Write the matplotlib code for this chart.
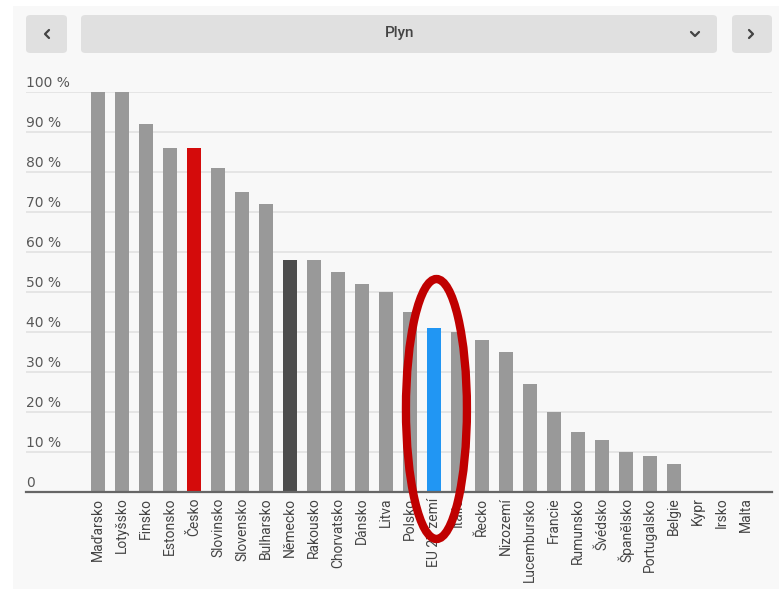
import matplotlib
matplotlib.use("Agg")
import matplotlib.pyplot as plt
from matplotlib.patches import FancyBboxPatch, Rectangle, Ellipse
from matplotlib.lines import Line2D

plt.rcParams['font.family'] = ['Roboto', 'DejaVu Sans']

countries = ['Maďarsko', 'Lotyšsko', 'Finsko', 'Estonsko', 'Česko', 'Slovinsko',
             'Slovensko', 'Bulharsko', 'Německo', 'Rakousko', 'Chorvatsko', 'Dánsko',
             'Litva', 'Polsko', 'EU 27 zemí', 'Itálie', 'Řecko', 'Nizozemí',
             'Lucembursko', 'Francie', 'Rumunsko', 'Švédsko', 'Španělsko',
             'Portugalsko', 'Belgie', 'Kypr', 'Irsko', 'Malta']
shares = [100, 100, 92, 86, 86, 81, 75, 72, 58, 58, 55, 52, 50, 45, 41, 40, 38, 35,
          27, 20, 15, 13, 10, 9, 7, 0, 0, 0]
highlight = {'Česko': '#d40b0b', 'Německo': '#4d4d4d', 'EU 27 zemí': '#2196f3'}
yticks = [0, 10, 20, 30, 40, 50, 60, 70, 80, 90, 100]
selected = 'Plyn'

W, H = 779, 589
fig = plt.figure(figsize=(W / 100, H / 100), dpi=100)
fig.patch.set_facecolor('white')


def px(x, y):
    return x / W, 1 - y / H


# panel background
fig.add_artist(Rectangle(px(13, H), (W - 13) / W, (H - 6) / H,
                         transform=fig.transFigure, fc='#f8f8f8', ec='none', zorder=0))

# selector buttons
for x0, x1 in [(26, 67), (81, 717), (732, 772)]:
    fig.add_artist(FancyBboxPatch(px(x0, 53), (x1 - x0) / W, 38 / H,
                                  boxstyle='round,pad=0,rounding_size=0.006',
                                  transform=fig.transFigure, fc='#e0e0e0', ec='none',
                                  zorder=1))
fig.text(*px(400, 33), selected, ha='center', va='center', fontsize=11,
         color='#444444', fontweight='medium')


def chevron(pts):
    xs = [px(x, y)[0] for x, y in pts]
    ys = [px(x, y)[1] for x, y in pts]
    fig.add_artist(Line2D(xs, ys, transform=fig.transFigure, color='#444444',
                          lw=1.6, solid_capstyle='round', zorder=2))


chevron([(49, 30), (45, 34), (49, 38)])
chevron([(749, 30), (753, 34), (749, 38)])
chevron([(691, 32), (695, 36), (699, 32)])

ax = fig.add_axes([26 / W, (H - 492) / H, (772 - 26) / W, 400 / H])
ax.set_facecolor('none')
ax.set_xlim(-3, 28.08)
ax.set_ylim(0, 100)

colors = [highlight.get(c, '#999999') for c in countries]
ax.bar(range(len(countries)), shares, width=0.6, color=colors, zorder=2)

for v in yticks[1:]:
    ax.axhline(v, color='#e2e2e2', lw=1.2, zorder=1)
ax.axhline(0, color='#666666', lw=1.6, zorder=3, clip_on=False)

for v in yticks:
    label = '0' if v == 0 else f'{v} %'
    ax.annotate(label, (0, v), xycoords=('axes fraction', 'data'),
                xytext=(0, 1.2), textcoords='offset points', ha='left', va='bottom',
                fontsize=10, color='#585858', family='DejaVu Sans',
                annotation_clip=False)

ax.set_xticks(range(len(countries)))
ax.set_xticklabels(countries, rotation=90, fontsize=10, color='#444444')
ax.tick_params(axis='x', length=0, pad=4)
ax.set_yticks([])
for s in ax.spines.values():
    s.set_visible(False)

# emphasis ring around the EU average
ax.add_patch(Ellipse((14.1, 20.75), width=2.54, height=65, fill=False,
                     ec='#c00000', lw=6, clip_on=False, zorder=5))

fig.savefig('out.png', dpi=100)
